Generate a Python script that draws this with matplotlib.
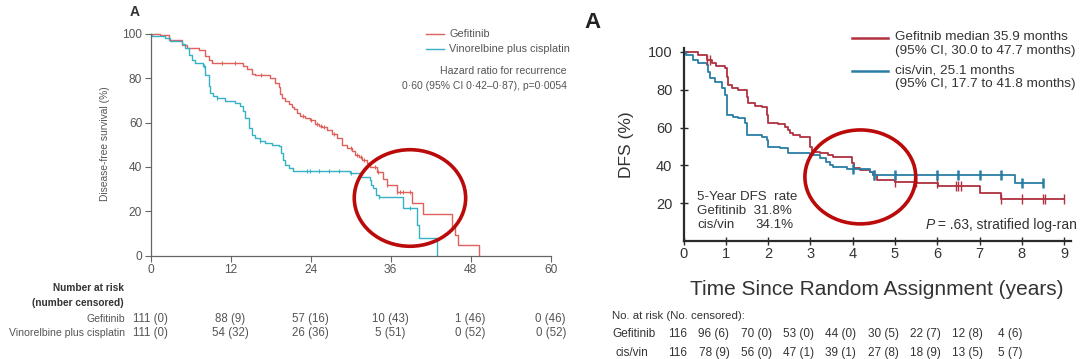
import numpy as np
import matplotlib
matplotlib.use("Agg")
import matplotlib.pyplot as plt
from matplotlib.patches import Ellipse
from matplotlib.transforms import blended_transform_factory
from matplotlib import font_manager

# ---------------- data: left panel (months, %) ----------------
gef_left_t = [0, 1.4, 2.7, 4.7, 5.4, 7.2, 8.2, 8.7, 9.2, 13.9, 14.4, 15.2, 15.7, 17.9, 18.7, 19.2,
              19.4, 19.7, 20.2, 20.7, 21.2, 21.5, 21.9, 22.4, 23.2, 23.9, 24.7, 25.2, 25.7, 26.4,
              27.2, 27.9, 28.7, 29.4, 30.2, 30.7, 31.2, 31.7, 32.4, 32.9, 33.9, 34.9, 35.4, 36.9,
              39.2, 40.9, 45.2, 45.6, 46.1, 49.2]
gef_left_s = [100, 99.3, 97, 95, 93.5, 92.5, 90, 88, 87, 85.5, 84, 82, 81.5, 80, 78, 76,
              73, 71, 69.5, 68.5, 67, 66, 64.5, 63, 62, 61, 59.5, 58.5, 58, 56.5,
              55, 53, 50, 48.5, 47, 45.5, 44.5, 43, 41.6, 40, 37.9, 34.5, 32, 28.8,
              23.9, 18.8, 13, 9.5, 4.8, 0]
gef_left_cens = [10.7, 12.7, 16.5, 22.8, 24.0, 24.9, 25.5, 26.0, 27.5, 30.0, 31.0, 31.5, 32.0,
                 33.7, 34.1, 35.4, 36.9, 37.4, 37.8, 38.9]

vin_left_t = [0, 0.2, 2.2, 2.9, 4.7, 5.2, 5.7, 6.2, 6.7, 7.9, 8.2, 8.7, 8.9, 9.4, 9.9, 11.2,
              12.7, 13.4, 13.9, 14.2, 14.7, 15.2, 15.7, 16.4, 17.2, 18.2, 19.2, 19.6, 19.8,
              20.2, 20.7, 21.4, 29.9, 31.4, 32.9, 33.1, 33.4, 33.8, 34.2, 37.8, 40.0, 40.2, 42.9]
vin_left_s = [100, 99, 98, 96.5, 95.3, 93.5, 90.5, 88.3, 86.8, 85.3, 81.5, 76.3, 73.3, 71.8, 71, 69.5,
              68.8, 67.3, 65, 62, 57.5, 54.5, 53, 51.5, 50.7, 50, 49.2, 46.2, 43.2,
              41, 39.5, 38.3, 37.1, 35.6, 34.1, 31.9, 30.4, 27.4, 26.3, 21.3, 13.8, 7.8, 0]
vin_left_cens = [8.0, 9.9, 16.4, 23.4, 23.9, 25.2, 26.7, 28.2, 30.0, 34.3, 38.9]

left_xticks = [0, 12, 24, 36, 48, 60]
left_yticks = [0, 20, 40, 60, 80, 100]
left_risk_gef = ["111 (0)", "88 (9)", "57 (16)", "10 (43)", "1 (46)", "0 (46)"]
left_risk_vin = ["111 (0)", "54 (32)", "26 (36)", "5 (51)", "0 (52)", "0 (52)"]

# ---------------- data: right panel (years, %) ----------------
gef_right_t = [0, 0.35, 0.55, 0.67, 0.78, 0.98, 1.02, 1.06, 1.14, 1.3, 1.49, 1.53, 1.69, 1.85, 1.97,
               2.0, 2.24, 2.4, 2.48, 2.52, 2.6, 2.75, 2.99, 3.03, 3.23, 3.42, 3.54, 3.98, 4.02,
               4.17, 4.41, 4.49, 4.57, 5.0, 5.51, 6.02, 7.0, 7.5, 9.0]
gef_right_s = [100, 98.4, 95.8, 94, 92.6, 91.4, 87, 82.5, 80.8, 79.9, 76.4, 72.8, 71.4, 70.7, 66.7,
               62.6, 61.9, 60.5, 58.7, 57.3, 56.1, 54.9, 49.9, 47.3, 46.4, 45.5, 44.6, 41.1, 38.4,
               37.6, 36.7, 34.9, 32.3, 31.4, 30.5, 29.3, 25.2, 22, 22]
gef_right_cens = [0.55, 0.62, 4.5, 5.0, 5.5, 6.0, 6.45, 6.5, 6.55, 7.5, 8.0, 8.5, 8.55, 9.0]

cis_right_t = [0, 0.07, 0.23, 0.35, 0.55, 0.59, 0.63, 0.75, 0.91, 0.98, 1.02, 1.18, 1.3, 1.45, 1.49,
               1.85, 1.97, 2.0, 2.28, 2.48, 2.99, 3.23, 3.38, 3.46, 3.54, 3.86, 4.41, 4.49, 7.84, 8.5]
cis_right_s = [100, 98.4, 95.8, 94.4, 93.1, 89.6, 86.1, 84.3, 80.8, 77.2, 66.7, 65.8, 64.9, 62.3, 56.1,
               55.2, 53.4, 49.9, 49, 46.4, 45.5, 43.7, 42, 40.2, 39, 37.9, 36.7, 34.9, 30.5, 30.5]
cis_right_cens = [4.0, 4.5, 5.0, 6.0, 6.5, 7.0, 7.5, 8.0, 8.5]

right_xticks = [0, 1, 2, 3, 4, 5, 6, 7, 8, 9]
right_yticks = [20, 40, 60, 80, 100]
right_risk_gef = ["116", "96 (6)", "70 (0)", "53 (0)", "44 (0)", "30 (5)", "22 (7)", "12 (8)", "4 (6)"]
right_risk_cis = ["116", "78 (9)", "56 (0)", "47 (1)", "39 (1)", "27 (8)", "18 (9)", "13 (5)", "5 (7)"]

# ---------------- fonts ----------------
names = {f.name for f in font_manager.fontManager.ttflist}
has_narrow = "Liberation Sans Narrow" in names
NARROW = "Liberation Sans Narrow" if has_narrow else "Liberation Sans"
SANS = "Liberation Sans"
ls = 1.1 if has_narrow else 1.0  # left-panel size factor

W, H = 1080, 359
fig = plt.figure(figsize=(W / 100, H / 100), dpi=100)
fig.patch.set_facecolor("white")


def fx(px):
    return px / W


def fy(py):
    return 1 - py / H


def censor_y(t, s, ct):
    t = np.asarray(t)
    s = np.asarray(s)
    idx = np.searchsorted(t, np.asarray(ct), side="right") - 1
    return s[idx]


# ================= LEFT PANEL =================
axL = fig.add_axes([150.5 / W, 1 - 255.7 / H, 400.2 / W, (255.7 - 31.5) / H])
RED_L = "#e0605c"
CYAN_L = "#36b2c6"
GRAY = "#555555"
axL.step(gef_left_t, gef_left_s, where="post", color=RED_L, lw=1.0)
axL.step(vin_left_t, vin_left_s, where="post", color=CYAN_L, lw=1.0)
axL.plot(gef_left_cens, censor_y(gef_left_t, gef_left_s, gef_left_cens), ls="none",
         marker="|", ms=3.5, mew=0.8, color=RED_L)
axL.plot(vin_left_cens, censor_y(vin_left_t, vin_left_s, vin_left_cens), ls="none",
         marker="|", ms=3.5, mew=0.8, color=CYAN_L)
axL.set_xlim(0, 60)
axL.set_ylim(0, 101)
axL.set_xticks(left_xticks)
axL.set_yticks(left_yticks)
for sp in ["top", "right"]:
    axL.spines[sp].set_visible(False)
for sp in ["left", "bottom"]:
    axL.spines[sp].set_color("#666666")
    axL.spines[sp].set_linewidth(0.9)
    axL.spines[sp].set_bounds(0, 100 if sp == "left" else 60)
axL.tick_params(direction="out", length=4, width=0.8, color="#666666",
                labelsize=8.6 * ls, labelcolor=GRAY, pad=2)
for lab in axL.get_xticklabels() + axL.get_yticklabels():
    lab.set_family(NARROW)
axL.set_ylabel("Disease-free survival (%)", family=NARROW, fontsize=7.4 * ls, color=GRAY, labelpad=9)
axL.add_patch(Ellipse((38.9, 26), 16.7, 43.5, fill=False, ec="#bb0a0a", lw=2.6, zorder=5))

fig.text(fx(130), fy(12), "A", family=SANS, fontweight="bold", fontsize=10, color="#333333",
         va="center", ha="left")
# legend
fig.add_artist(plt.Line2D([fx(426), fx(444)], [fy(34), fy(34)], color=RED_L, lw=1.0))
fig.add_artist(plt.Line2D([fx(426), fx(444)], [fy(49), fy(49)], color=CYAN_L, lw=1.0))
fig.text(fx(449), fy(34), "Gefitinib", family=NARROW, fontsize=7.8 * ls, color=GRAY, va="center")
fig.text(fx(449), fy(49), "Vinorelbine plus cisplatin", family=NARROW, fontsize=7.8 * ls, color=GRAY,
         va="center")
fig.text(fx(567), fy(71), "Hazard ratio for recurrence", family=NARROW, fontsize=7.6 * ls, color=GRAY,
         va="center", ha="right")
fig.text(fx(567), fy(86), "0·60 (95% CI 0·42–0·87), p=0·0054", family=NARROW, fontsize=7.5 * ls,
         color=GRAY, va="center", ha="right")
# number at risk
fig.text(fx(124), fy(288), "Number at risk", family=NARROW, fontsize=7.3 * ls, fontweight="bold",
         color="#333333", ha="right", va="center")
fig.text(fx(124), fy(303), "(number censored)", family=NARROW, fontsize=7.3 * ls, fontweight="bold",
         color="#333333", ha="right", va="center")
fig.text(fx(125), fy(319), "Gefitinib", family=NARROW, fontsize=7.6 * ls, color=GRAY, ha="right",
         va="center")
fig.text(fx(125), fy(333), "Vinorelbine plus cisplatin", family=NARROW, fontsize=7.6 * ls, color=GRAY,
         ha="right", va="center")
trL = blended_transform_factory(axL.transData, fig.transFigure)
for xv, g, v in zip(left_xticks, left_risk_gef, left_risk_vin):
    axL.text(xv, fy(319), g, transform=trL, family=NARROW, fontsize=8.3 * ls, color=GRAY,
             ha="center", va="center", clip_on=False)
    axL.text(xv, fy(333), v, transform=trL, family=NARROW, fontsize=8.3 * ls, color=GRAY,
             ha="center", va="center", clip_on=False)

# ================= RIGHT PANEL =================
axR = fig.add_axes([683.5 / W, 1 - 241 / H, 9.15 * 42.3 / W, 192.8 / H])
RED_R = "#b0303f"
BLUE_R = "#2a7da6"
TXT = "#333333"
axR.step(gef_right_t, gef_right_s, where="post", color=RED_R, lw=1.3)
axR.step(cis_right_t, cis_right_s, where="post", color=BLUE_R, lw=1.3)
axR.plot(gef_right_cens, censor_y(gef_right_t, gef_right_s, gef_right_cens), ls="none",
         marker="|", ms=7, mew=1.0, color=RED_R)
axR.plot(cis_right_cens, censor_y(cis_right_t, cis_right_s, cis_right_cens), ls="none",
         marker="|", ms=7, mew=1.8, color=BLUE_R)
axR.set_xlim(0, 9.15)
axR.set_ylim(0, 102)
axR.set_xticks(right_xticks)
axR.set_yticks(right_yticks)
for sp in ["top", "right"]:
    axR.spines[sp].set_visible(False)
for sp in ["left", "bottom"]:
    axR.spines[sp].set_color("#2a2a2a")
    axR.spines[sp].set_linewidth(1.6)
axR.tick_params(direction="inout", length=6, width=1.0, color="#2a2a2a", labelsize=10.5,
                labelcolor=TXT)
axR.tick_params(axis="x", pad=1)
axR.tick_params(axis="y", pad=5)
for lab in axR.get_xticklabels() + axR.get_yticklabels():
    lab.set_family(SANS)
axR.set_ylabel("DFS (%)", family=SANS, fontsize=12.5, color=TXT, labelpad=10)
axR.set_xlabel("Time Since Random Assignment (years)", family=SANS, fontsize=15, color=TXT,
               labelpad=14)
axR.add_patch(Ellipse((4.18, 33.9), 2.62, 49.7, fill=False, ec="#bb0a0a", lw=2.6, zorder=5,
                      clip_on=False))

fig.text(fx(584), fy(22), "A", family=SANS, fontweight="bold", fontsize=16, color="#222222",
         va="center", ha="left")
# legend
fig.add_artist(plt.Line2D([fx(852), fx(888)], [fy(38), fy(38)], color=RED_R, lw=1.8))
fig.add_artist(plt.Line2D([fx(852), fx(888)], [fy(71), fy(71)], color=BLUE_R, lw=1.8))
fig.text(fx(895), fy(37.5), "Gefitnib median 35.9 months", family=SANS, fontsize=9.7, color=TXT,
         va="center")
fig.text(fx(895), fy(51), "(95% CI, 30.0 to 47.7 months)", family=SANS, fontsize=9.7, color=TXT,
         va="center")
fig.text(fx(895), fy(70.5), "cis/vin, 25.1 months", family=SANS, fontsize=9.7, color=TXT,
         va="center")
fig.text(fx(895), fy(84), "(95% CI, 17.7 to 41.8 months)", family=SANS, fontsize=9.7, color=TXT,
         va="center")
# inset text
fig.text(fx(697), fy(197), "5-Year DFS  rate", family=SANS, fontsize=9.6, color=TXT, va="center")
fig.text(fx(697), fy(211), "Gefitinib  31.8%", family=SANS, fontsize=9.6, color=TXT, va="center")
fig.text(fx(697), fy(225), "cis/vin", family=SANS, fontsize=9.6, color=TXT, va="center")
fig.text(fx(756), fy(225), "34.1%", family=SANS, fontsize=9.6, color=TXT, va="center")
fig.text(fx(926), fy(225), "P", family=SANS, fontsize=10, style="italic", color=TXT, va="center")
fig.text(fx(934), fy(225), " = .63, stratified log-ran", family=SANS, fontsize=10, color=TXT,
         va="center")
# number at risk
fig.text(fx(612), fy(316), "No. at risk (No. censored):", family=SANS, fontsize=8.2, color=TXT,
         va="center")
fig.text(fx(612), fy(334), "Gefitinib", family=SANS, fontsize=8.5, color=TXT, va="center")
fig.text(fx(615), fy(353), "cis/vin", family=SANS, fontsize=8.5, color=TXT, va="center")
trR = blended_transform_factory(axR.transData, fig.transFigure)
for i, (g, c) in enumerate(zip(right_risk_gef, right_risk_cis)):
    xpos = -0.15 if i == 0 else right_xticks[i] - 0.28
    axR.text(xpos, fy(334), g, transform=trR, family=SANS, fontsize=8.5, color=TXT,
             ha="center", va="center", clip_on=False)
    axR.text(xpos, fy(353), c, transform=trR, family=SANS, fontsize=8.5, color=TXT,
             ha="center", va="center", clip_on=False)

fig.savefig("out.png", dpi=100, facecolor="white")
